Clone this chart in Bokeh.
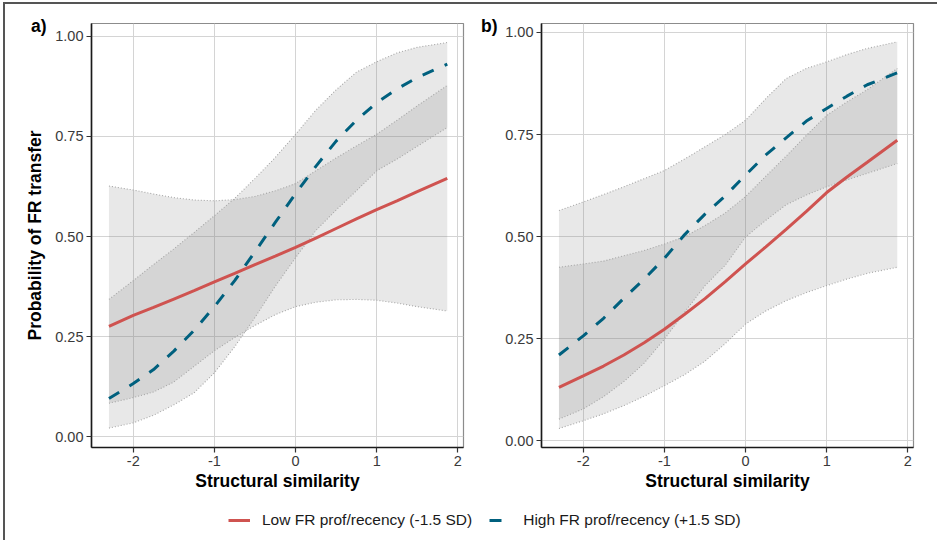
from bokeh.plotting import figure
from bokeh.layouts import row, column
from bokeh.models import (Range1d, FixedTicker, NumeralTickFormatter, Legend, LegendItem,
                          LinearAxis)
from bokeh.embed import file_html
from bokeh.resources import INLINE

# ---------------- data ----------------
x_vals = [-2.3, -2.0, -1.75, -1.5, -1.25, -1.0, -0.75, -0.5, -0.25, 0.0,
          0.25, 0.5, 0.75, 1.0, 1.25, 1.5, 1.87]

# panel a)
a_low = [0.276, 0.303, 0.323, 0.344, 0.365, 0.387, 0.408, 0.430, 0.451, 0.473,
         0.496, 0.520, 0.544, 0.567, 0.589, 0.612, 0.645]
a_low_lo = [0.084, 0.098, 0.112, 0.137, 0.176, 0.215, 0.248, 0.278, 0.305, 0.325,
            0.336, 0.342, 0.343, 0.341, 0.334, 0.325, 0.314]
a_low_hi = [0.626, 0.616, 0.606, 0.597, 0.591, 0.589, 0.592, 0.600, 0.614, 0.632,
            0.664, 0.696, 0.726, 0.755, 0.790, 0.826, 0.877]
a_high = [0.096, 0.133, 0.168, 0.214, 0.266, 0.325, 0.390, 0.462, 0.535, 0.607,
          0.675, 0.738, 0.790, 0.834, 0.868, 0.897, 0.930]
a_high_lo = [0.022, 0.035, 0.054, 0.080, 0.110, 0.160, 0.225, 0.298, 0.376, 0.447,
             0.515, 0.566, 0.614, 0.664, 0.693, 0.725, 0.772]
a_high_hi = [0.343, 0.390, 0.430, 0.469, 0.510, 0.552, 0.595, 0.645, 0.697, 0.755,
             0.815, 0.866, 0.910, 0.936, 0.958, 0.972, 0.984]

# panel b)
b_low = [0.131, 0.159, 0.183, 0.210, 0.240, 0.273, 0.310, 0.348, 0.390, 0.433,
         0.475, 0.518, 0.562, 0.608, 0.646, 0.682, 0.736]
b_low_lo = [0.030, 0.049, 0.066, 0.086, 0.109, 0.135, 0.162, 0.195, 0.238, 0.286,
            0.318, 0.343, 0.363, 0.380, 0.396, 0.410, 0.425]
b_low_hi = [0.425, 0.433, 0.440, 0.453, 0.466, 0.482, 0.500, 0.527, 0.558, 0.598,
            0.648, 0.697, 0.748, 0.797, 0.830, 0.860, 0.912]
b_high = [0.210, 0.257, 0.300, 0.349, 0.396, 0.447, 0.505, 0.555, 0.600, 0.651,
          0.700, 0.742, 0.783, 0.814, 0.844, 0.872, 0.901]
b_high_lo = [0.053, 0.078, 0.108, 0.145, 0.190, 0.249, 0.315, 0.380, 0.430, 0.499,
             0.540, 0.578, 0.602, 0.622, 0.639, 0.655, 0.679]
b_high_hi = [0.564, 0.585, 0.603, 0.622, 0.642, 0.662, 0.690, 0.720, 0.750, 0.785,
             0.838, 0.887, 0.912, 0.928, 0.946, 0.961, 0.977]

x_ticks = [-2, -1, 0, 1, 2]
x_tick_labels = ["-2", "-1", "0", "1", "2"]
y_ticks = [0.0, 0.25, 0.5, 0.75, 1.0]

label_low = "Low FR prof/recency (-1.5 SD)"
label_high = "High FR prof/recency (+1.5 SD)"
x_title = "Structural similarity"
y_title = "Probability of FR transfer"

RED = "#CF5350"
BLUE = "#00607E"
FONT = "Liberation Sans"


def style_axis(ax):
    ax.axis_line_color = "#1a1a1a"
    ax.axis_line_width = 1.6
    ax.major_tick_line_color = "#333333"
    ax.major_tick_line_width = 1.2
    ax.major_tick_out = 5
    ax.major_tick_in = 0
    ax.minor_tick_line_color = None
    ax.major_label_standoff = 3
    ax.major_label_text_font = FONT
    ax.major_label_text_font_size = "14.5px"
    ax.major_label_text_color = "#3a3a3a"
    ax.axis_label_text_font = FONT
    ax.axis_label_text_font_size = "17.5px"
    ax.axis_label_text_font_style = "bold"
    ax.axis_label_text_color = "#000000"


def make_panel(width, mb_left, mb_right, y_range, low, low_lo, low_hi,
               high, high_lo, high_hi, ytitle, tag, tag_y, tag_standoff):
    p = figure(width=width, height=496, output_backend="svg", toolbar_location=None,
               x_range=Range1d(-2.515, 2.07), y_range=Range1d(*y_range),
               min_border_left=mb_left, min_border_right=mb_right,
               min_border_top=19, min_border_bottom=53)
    p.outline_line_color = "#8c8c8c"
    p.outline_line_width = 1.2
    p.background_fill_color = "white"
    p.border_fill_color = "white"

    for lo, hi in ((low_lo, low_hi), (high_lo, high_hi)):
        p.varea(x=x_vals, y1=lo, y2=hi, fill_color="#808080", fill_alpha=0.18)
    for edge in (low_lo, low_hi, high_lo, high_hi):
        p.line(x_vals, edge, line_color="#a6a6a6", line_width=1.1, line_dash="1 2")

    p.line(x_vals, low, line_color=RED, line_width=3)
    p.line(x_vals, high, line_color=BLUE, line_width=3, line_dash="12 12")

    p.xaxis.ticker = FixedTicker(ticks=x_ticks)
    p.xaxis.major_label_overrides = dict(zip(x_ticks, x_tick_labels))
    p.yaxis.ticker = FixedTicker(ticks=y_ticks)
    p.yaxis.formatter = NumeralTickFormatter(format="0.00")
    style_axis(p.xaxis[0])
    style_axis(p.yaxis[0])
    p.xaxis.axis_label = x_title
    p.xaxis.axis_label_standoff = 2
    if ytitle:
        p.yaxis.axis_label = y_title
        p.yaxis.axis_label_standoff = 7

    p.grid.grid_line_color = "#d4d4d4"
    p.grid.grid_line_width = 1

    # panel tag drawn as the only label of a bare extra axis on the left
    tag_axis = LinearAxis(ticker=FixedTicker(ticks=[tag_y]),
                          major_label_overrides={tag_y: tag})
    tag_axis.axis_line_color = None
    tag_axis.major_tick_line_color = None
    tag_axis.minor_tick_line_color = None
    tag_axis.major_tick_out = 0
    tag_axis.major_tick_in = 0
    tag_axis.major_label_standoff = tag_standoff
    tag_axis.major_label_text_font = FONT
    tag_axis.major_label_text_font_size = "17.5px"
    tag_axis.major_label_text_font_style = "bold"
    tag_axis.major_label_text_color = "#000000"
    tag_axis.major_label_text_baseline = "middle"
    p.add_layout(tag_axis, "left")
    return p


pa = make_panel(465, 86, 7, (-0.0265, 1.0315), a_low, a_low_lo, a_low_hi,
                a_high, a_high_lo, a_high_hi, True, "a)", 1.025, -24)
pb = make_panel(467, 71, 24, (-0.0165, 1.022), b_low, b_low_lo, b_low_hi,
                b_high, b_high_lo, b_high_hi, False, "b)", 1.017, 5)

# legend strip
pl = figure(width=932, height=40, output_backend="svg", toolbar_location=None,
            x_range=Range1d(0, 1), y_range=Range1d(0, 1), min_border=0)
pl.outline_line_color = None
pl.axis.visible = False
pl.grid.visible = False
l1 = pl.line([-5, -4], [-5, -5], line_color=RED, line_width=3)
l2 = pl.line([-5, -4], [-5, -5], line_color=BLUE, line_width=3, line_dash="12 12")
legend = Legend(items=[LegendItem(label=label_low, renderers=[l1]),
                       LegendItem(label=label_high, renderers=[l2])],
                orientation="horizontal", location=(223, 10),
                border_line_color=None, background_fill_alpha=0,
                padding=0, margin=0, spacing=17, label_standoff=12,
                glyph_width=22, glyph_height=20,
                label_text_font=FONT, label_text_font_size="15.5px",
                label_text_color="#1a1a1a")
pl.add_layout(legend)

layout = column(row(pa, pb), pl,
                styles={"border-top": "2px solid #555555",
                        "border-left": "2px solid #555555",
                        "margin-left": "3px", "margin-top": "2px"})

open("out.html", "w").write(file_html(layout, INLINE))
